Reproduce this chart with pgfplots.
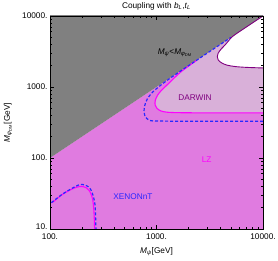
\documentclass[border=0pt]{standalone}
\usepackage{pgfplots}
\pgfplotsset{compat=1.18}
\usepackage{fontspec}
\setmainfont{Liberation Sans}
\definecolor{lzfill}{RGB}{224,123,224}
\definecolor{darwinfill}{RGB}{217,176,217}
\definecolor{grayfill}{RGB}{128,128,128}
\definecolor{lzline}{RGB}{255,0,255}
\definecolor{darwinline}{RGB}{128,0,128}
\definecolor{xenonline}{RGB}{40,40,255}
\begin{document}
\begin{tikzpicture}
\path[use as bounding box] (-50bp,-32bp) rectangle (228bp,229bp);
\begin{axis}[
  at={(0,0)}, anchor=south west,
  scale only axis, width=213bp, height=213bp,
  xmode=log, ymode=log,
  xmin=100, xmax=10000, ymin=10, ymax=10000,
  xtick={100,1000,10000}, xticklabels={100.,1000.,10000.},
  ytick={10,100,1000,10000}, yticklabels={\raisebox{4.5bp}{10.},100.,1000.,10000.},
  tick align=inside,
  major tick length=4bp, minor tick length=2bp,
  axis on top,
  axis line style={line width=0.8bp},
  every tick/.style={black, line width=0.5bp},
  font=\fontsize{8.3}{9}\selectfont,
  ticklabel style={font=\fontsize{8.3}{9}\selectfont},
  yticklabel style={xshift=1bp},
  xticklabel style={yshift=-1bp},
]
% LZ excluded background
\addplot[fill=lzfill, draw=none] coordinates {(50,5) (20000,5) (20000,20000) (50,50)} -- cycle;
% DARWIN reach (between LZ and DARWIN contours)
\addplot[fill=darwinfill, draw=none, smooth] coordinates {
 (20000,431) (10000,431) (3000,432) (1600,435) (1250,442) (1100,460) (1010,500) (970,560)
 (975,650) (1020,760) (1100,880) (1250,1060) (1450,1320) (1700,1640) (2000,1970) (2400,2390)
 (5000,5000) (20000,20000) (40000,20000) (40000,431)} -- cycle;
% allowed (white)
\addplot[fill=white, draw=none, smooth] coordinates {
 (20000,1854) (10000,1854) (7000,1890) (5500,1940) (4600,2030) (4100,2180) (3800,2400) (3720,2670)
 (3780,2950) (3900,3200) (4100,3500) (4400,3900) (4800,4550) (5400,5400) (20000,20000) (40000,20000) (40000,1854)} -- cycle;
% M_psi < M_phi region
\addplot[fill=grayfill, draw=none] coordinates {(50,50) (20000,20000) (20000,20000) (50,20000)} -- cycle;
% LZ contour
\addplot[lzline, line width=1.1bp, smooth] coordinates {
 (10000,431) (3000,432) (1600,435) (1250,442) (1100,460) (1010,500) (970,560)
 (975,650) (1020,760) (1100,880) (1250,1060) (1450,1320) (1700,1640) (2000,1970) (2400,2390)};
% XENONnT contour
\addplot[xenonline, line width=1.2bp, dash pattern=on 3bp off 2bp, smooth] coordinates {
 (10000,329) (3000,329) (1500,330) (1000,332) (880,336) (810,360) (775,400) (764,449) (770,520)
 (790,600) (820,680) (870,770) (930,860) (1010,960) (1120,1090) (1250,1230) (1400,1390) (2000,2000) (5000,5000)};
% DARWIN contour
\addplot[darwinline, line width=0.9bp, smooth] coordinates {
 (10000,1854) (7000,1890) (5500,1940) (4600,2030) (4100,2180) (3800,2400) (3720,2670)
 (3780,2950) (3900,3200) (4100,3500) (4400,3900) (4800,4550) (5400,5400) (10000,10000)};
% small low-mass contours
\addplot[lzline, line width=1.1bp, smooth] coordinates {
 (105,23.5) (130,30.5) (154,35.4) (175,38.5) (198,39.8) (220,38) (234,34.6) (245,30) (252,25.6)
 (257,20) (260,15) (262,11) (263,9)};
\addplot[xenonline, line width=1.2bp, dash pattern=on 3bp off 2bp, smooth] coordinates {
 (103,23.5) (130,30.8) (154,36) (175,40) (193,42.3) (215,41.5) (235,38) (248,33) (258,27)
 (265,21.8) (268,15) (270,10) (270,9)};
% labels
\node[black] at (axis cs:1493,3013) {\textit{M}\textsubscript{\textit{ψ}}<\textit{M}\textsubscript{\textit{φ}\textsubscript{DM}}};
\node[darwinline] at (axis cs:2300,700) {DARWIN};
\node[lzline] at (axis cs:2960,96) {LZ};
\node[xenonline] at (axis cs:601,28.5) {XENONnT};
\end{axis}
\node[font=\fontsize{8.3}{9}\selectfont] at (106.5bp,223bp) {Coupling with \textit{b}\textsubscript{\textit{L}},\textit{t}\textsubscript{\textit{L}}};
\node[font=\fontsize{8.3}{9}\selectfont] at (106.5bp,-23bp) {\textit{M}\textsubscript{\textit{ψ}}[GeV]};
\node[font=\fontsize{8.3}{9}\selectfont, rotate=90] at (-42bp,106.5bp) {\textit{M}\textsubscript{\textit{φ}\textsubscript{DM}}[GeV]};
\end{tikzpicture}
\end{document}
